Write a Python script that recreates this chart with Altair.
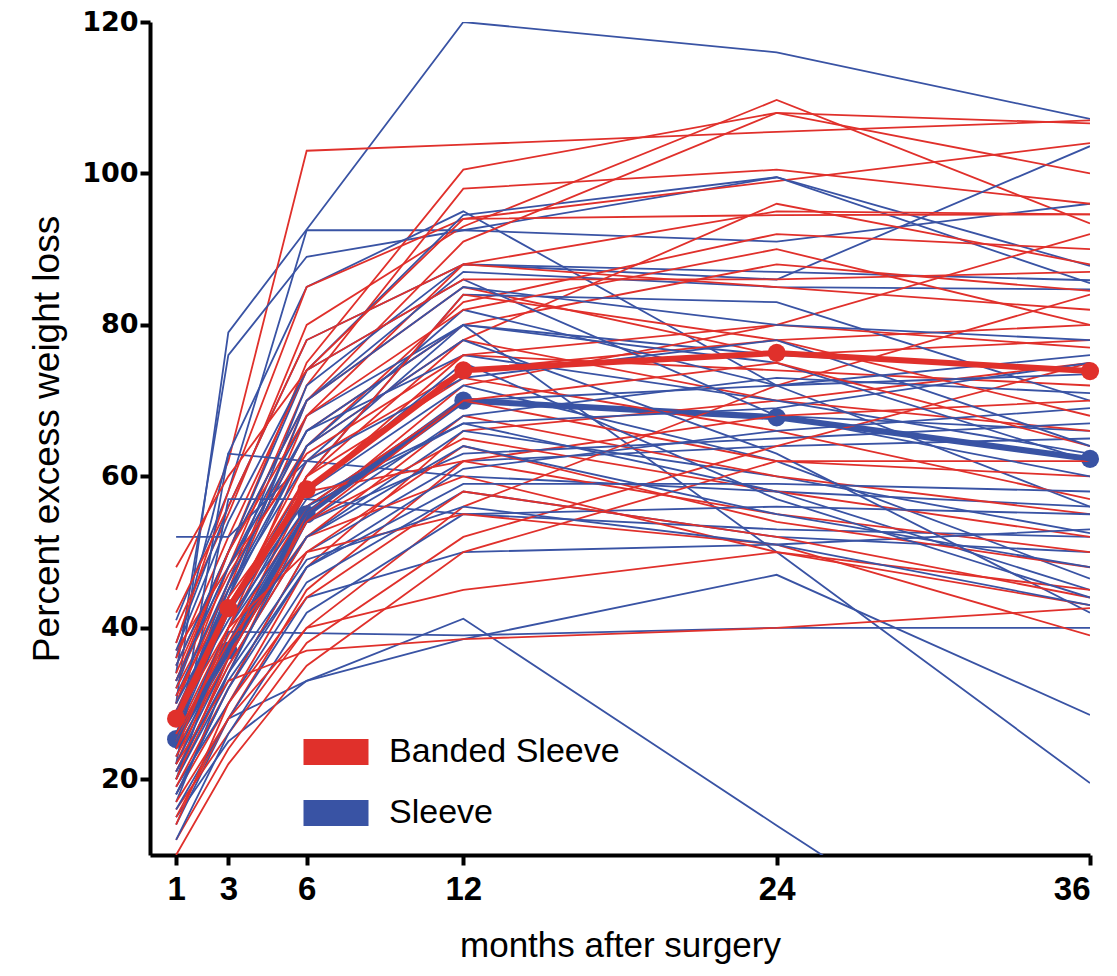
import altair as alt
import pandas as pd

MONTHS = [1, 3, 6, 12, 24, 36]
GROUPS = ["Banded Sleeve", "Sleeve"]
COLORS = ["#E0302B", "#3953A4"]
Y_TICKS = [20, 40, 60, 80, 100, 120]

RED_MEAN = [28.0, 42.6, 58.3, 74.0, 76.3, 73.9]
BLUE_MEAN = [25.3, 37.0, 55.0, 70.0, 67.8, 62.3]

RED_LINES = [
    [45, 62, 103, 103.8, 105.5, 107],
    [40, 55, 80, 93, 109.7, 93.4],
    [35, 50, 75, 100.5, 108, 106.6],
    [30, 48, 72, 98, 100.5, 96],
    [38, 58, 85, 94, 99, 104],
    [32, 45, 70, 91, 108, 100],
    [28, 44, 68, 88, 95, 94.6],
    [36, 52, 74, 94, 94.5, 94.6],
    [26, 40, 64, 83, 92, 90],
    [42, 56, 78, 88, 85, 82],
    [24, 36, 60, 78, 96, 88],
    [30, 46, 66, 80, 88, 84.5],
    [20, 34, 55, 72, 80, 92],
    [34, 50, 70, 85, 76, 78],
    [22, 38, 58, 76, 74, 72],
    [27, 42, 62, 74, 78, 80],
    [18, 30, 48, 66, 70, 75],
    [33, 47, 64, 78, 70, 66],
    [25, 39, 56, 70, 62, 60],
    [15, 28, 45, 62, 68, 70],
    [29, 43, 60, 73, 66, 57],
    [21, 35, 52, 68, 60, 55],
    [37, 48, 63, 76, 80, 77],
    [16, 26, 40, 56, 72, 84],
    [23, 36, 54, 65, 58, 52],
    [31, 44, 58, 62, 55, 50],
    [19, 32, 50, 64, 54, 48],
    [12, 24, 38, 52, 64, 75],
    [26, 38, 52, 60, 50, 45],
    [14, 30, 44, 58, 52, 44],
    [10, 22, 35, 50, 62, 62],
    [17, 28, 40, 45, 50, 43],
    [28, 40, 50, 55, 51, 39],
    [22, 33, 37, 38.5, 40, 42.6],
    [48, 60, 74, 86, 86, 87],
    [33, 50, 68, 82, 90, 80],
    [24, 40, 60, 84, 78, 68],
    [20, 36, 54, 70, 75, 64],
]

BLUE_LINES = [
    [30, 79, 92.6, 120, 116, 107.2],
    [34, 76, 89, 92.5, 99.5, 87.8],
    [41, 58, 92.5, 92.5, 91, 96],
    [36, 63, 85, 95, 72, 56],
    [38, 56, 78, 88, 86, 103.6],
    [32, 50, 74, 94.5, 99.5, 85.5],
    [28, 46, 72, 88, 87, 85.9],
    [26, 44, 70, 87, 85, 84.7],
    [52, 52, 62, 80, 76, 74],
    [24, 63, 62, 60, 58, 56],
    [22, 57, 57, 55, 53, 52],
    [20, 39.5, 39.3, 39, 40, 40],
    [15, 25, 33, 41.2, 13.9, -13],
    [14, 28, 33, 38.5, 47, 28.5],
    [33, 48, 68, 80, 50, 19.5],
    [25, 40, 58, 72, 62, 46.5],
    [27, 42, 60, 84, 83, 70],
    [23, 38, 56, 70, 68, 66],
    [29, 44, 64, 82, 72, 76],
    [18, 32, 50, 62, 64, 65],
    [31, 46, 66, 76, 70, 63],
    [21, 35, 52, 66, 60, 52.5],
    [17, 34, 54, 63, 65, 67],
    [35, 50, 70, 85, 80, 78],
    [19, 30, 46, 58, 52, 50],
    [26, 42, 57, 67, 58, 45],
    [16, 28, 44, 50, 51, 53],
    [28, 45, 64, 78, 63, 42],
    [24, 40, 55, 70, 72, 73.5],
    [12, 26, 42, 55, 56, 55],
    [30, 43, 58, 75, 57, 44],
    [22, 36, 54, 68, 73, 71],
    [20, 33, 48, 61, 66, 69],
    [37, 54, 74, 86, 68, 60],
    [25, 37, 52, 64, 55, 48],
    [18, 32, 48, 59, 59, 58],
    [33, 48, 66, 80, 75, 62],
    [29, 41, 56, 67, 69, 75],
    [21, 34, 49, 56, 51, 43],
    [27, 45, 62, 73, 78, 64],
]

rows = []
n = max(len(RED_LINES), len(BLUE_LINES))
for i in range(n):
    for g, lines in ((1, BLUE_LINES), (0, RED_LINES)):
        if i < len(lines):
            for m, v in zip(MONTHS, lines[i]):
                rows.append({"id": f"{i:02d}{g}", "group": GROUPS[g], "month": m, "pewl": v})
indiv = pd.DataFrame(rows)

blue_mean = pd.DataFrame({"group": GROUPS[1], "month": MONTHS, "pewl": BLUE_MEAN})
red_mean = pd.DataFrame({"group": GROUPS[0], "month": MONTHS, "pewl": RED_MEAN})

xscale = alt.Scale(domain=[0, 36], nice=False, zero=False)
yscale = alt.Scale(domain=[10, 120], nice=False, zero=False)
cscale = alt.Scale(domain=GROUPS, range=COLORS)

xaxis = alt.Axis(values=MONTHS, title="months after surgery", grid=False,
                 labelFont="Liberation Sans", labelFontWeight="bold", labelFontSize=33,
                 labelPadding=8, titleFont="Liberation Sans", titleFontWeight="normal",
                 titleFontSize=35, titlePadding=22)
yaxis = alt.Axis(values=Y_TICKS, title="Percent excess weight loss", grid=False,
                 labelFont="DejaVu Sans", labelFontWeight="bold", labelFontSize=27,
                 labelPadding=2, titleFont="Liberation Sans", titleFontWeight="normal",
                 titleFontSize=37, titlePadding=15)

# legend swatch: a block of closely spaced horizontal strokes (65 x 26 px)
swatch = "".join(f"M-2.5,{y / 100:.2f}L2.5,{y / 100:.2f}" for y in range(-92, 93, 8))

legend = alt.Legend(title=None, orient="none", legendX=169, legendY=713,
                    symbolType=swatch, symbolSize=676, symbolStrokeWidth=2,
                    labelFont="Liberation Sans", labelFontSize=34, labelColor="black",
                    labelOffset=36, rowPadding=27, padding=0, labelLimit=400)

enc_x = alt.X("month:Q", scale=xscale, axis=xaxis)
enc_y = alt.Y("pewl:Q", scale=yscale, axis=yaxis)
enc_c = alt.Color("group:N", scale=cscale, legend=legend)


def mean_layers(df):
    base = alt.Chart(df).encode(x=enc_x, y=enc_y, color=enc_c)
    return [base.mark_line(strokeWidth=6), base.mark_circle(size=330, opacity=1)]


lines = alt.Chart(indiv).mark_line(strokeWidth=1.8, clip=True).encode(
    x=enc_x, y=enc_y, color=enc_c, detail="id:N",
)

chart = alt.layer(*mean_layers(blue_mean), lines, *mean_layers(red_mean)).properties(
    width=940, height=833,
    autosize=alt.AutoSizeParams(type="none"),
    padding={"left": 142, "top": 14, "right": 19, "bottom": 113},
).configure_view(stroke=None).configure_axis(
    domainColor="black", domainWidth=4, tickColor="black", tickWidth=4, tickSize=10,
    labelColor="black", titleColor="black",
)

chart.save("out.html", embed_options={"renderer": "svg", "actions": False})
